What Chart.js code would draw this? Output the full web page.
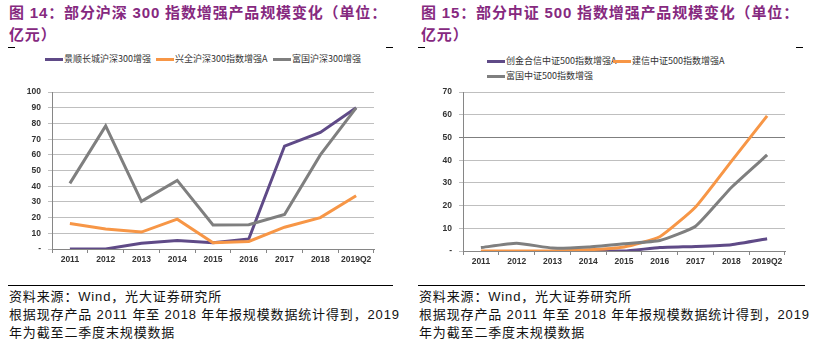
<!DOCTYPE html>
<html><head><meta charset="utf-8">
<script src="https://cdn.jsdelivr.net/npm/chart.js@4"></script>
<style>
html,body{margin:0;padding:0;background:#fff;width:813px;height:352px;overflow:hidden;}
body{position:relative;font-family:"Liberation Sans","Noto Sans CJK SC",sans-serif;}
.title{position:absolute;top:2px;font-weight:bold;font-size:15px;line-height:22px;color:#86297f;font-family:"Liberation Sans","Noto Sans CJK SC",sans-serif;letter-spacing:0.85px;white-space:nowrap;}
.mark{position:absolute;top:47px;height:1px;width:7px;background:#000;}
.legend{position:absolute;font-size:9px;color:#333;font-family:"Noto Sans CJK SC",sans-serif;line-height:14px;}
.legend .item{position:absolute;white-space:nowrap;display:flex;align-items:center;}
.legend .sw{display:inline-block;width:18px;height:3px;margin-right:1px;}
.cv{position:absolute;top:80px;}
.rule{position:absolute;top:285px;height:1px;background:#000;}
.note{position:absolute;top:288px;font-size:13px;line-height:18px;color:#111;white-space:nowrap;letter-spacing:0.85px;font-family:"Liberation Sans","Noto Sans CJK SC",sans-serif;}
</style></head>
<body>
<div class="title" style="left:9px">图 14：部分沪深 300 指数增强产品规模变化（单位：<br>亿元）</div>
<div class="title" style="left:421px">图 15：部分中证 500 指数增强产品规模变化（单位：<br>亿元）</div>
<div class="mark" style="left:8px"></div><div class="mark" style="left:386px"></div>
<div class="mark" style="left:418px"></div><div class="mark" style="left:796px"></div>
<div class="legend" id="lg1"></div>
<div class="legend" id="lg2"></div>
<canvas id="c1" class="cv" style="left:0px" width="405" height="195"></canvas>
<canvas id="c2" class="cv" style="left:410px" width="403" height="195"></canvas>
<div class="rule" style="left:8px;width:385px"></div>
<div class="rule" style="left:418px;width:387px"></div>
<div class="note" style="left:9px">资料来源：Wind，光大证券研究所<br>根据现存产品 2011 年至 2018 年年报规模数据统计得到，2019<br>年为截至二季度末规模数据</div>
<div class="note" style="left:419px">资料来源：Wind，光大证券研究所<br>根据现存产品 2011 年至 2018 年年报规模数据统计得到，2019<br>年为截至二季度末规模数据</div>
<script>
const categories = ['2011','2012','2013','2014','2015','2016','2017','2018','2019Q2'];
// Chart 14 (沪深300)
const hs300Names = ['景顺长城沪深300增强','兴全沪深300指数增强A','富国沪深300增强'];
const hs300Jingshun = [0, 0, 3.7, 5.4, 4, 6.4, 65.6, 74.3, 90];
const hs300Xingquan = [16.3, 12.8, 10.8, 19, 4, 4.8, 13.9, 20, 34];
const hs300Fuguo = [41.8, 78.5, 30.4, 43.7, 15.3, 15.5, 22, 60, 90];
// Chart 15 (中证500)
const zz500Names = ['创金合信中证500指数增强A','建信中证500指数增强A','富国中证500指数增强'];
const zz500Chuangjin = [null, null, null, 0, 0, 1.5, 2, 2.8, 5.4];
const zz500Jianxin = [0, 0, 0, 0.5, 1.8, 6.3, 19.4, 39.5, 59.5];
const zz500Fuguo = [1.5, 3.4, 1.3, 1.8, 3.2, 4.6, 10.9, 28, 42.3];

const colors = ['#5f4a87','#f79646','#7f7f7f'];
const tickFont = {family:'"Liberation Sans", sans-serif', size:8.5, weight:'bold'};

function makeChart(id, names, series, yMax, pad, tension, darkLine){
  const datasets = series.map((d,i)=>({
    label:names[i], data:d, borderColor:colors[i], backgroundColor:colors[i],
    borderWidth:3, pointRadius:0, tension:tension, order:3-i, spanGaps:false,
    borderCapStyle:'butt', borderJoinStyle:'miter'
  }));
  return new Chart(document.getElementById(id), {
    type:'line',
    data:{labels:categories, datasets},
    options:{
      responsive:false, animation:false, devicePixelRatio:1,
      layout:{padding:pad},
      plugins:{legend:{display:false}, tooltip:{enabled:false}},
      scales:{
        x:{offset:true,
           grid:{offset:true, drawOnChartArea:false, drawTicks:true, tickLength:4, color:'#868686'},
           border:{display:true, color:'#868686'},
           ticks:{font:tickFont, color:'#333', padding:2, maxRotation:0, autoSkip:false},
           afterFit:(s)=>{s.height=pad.xh;}},
        y:{min:0, max:yMax,
           ticks:{stepSize:10, font:tickFont, color:'#333', padding:7,
                  callback:(v)=> v===0 ? '-' : v},
           grid:{color:(c)=> (darkLine!==null && c.tick && c.tick.value===darkLine) ? '#7f7f7f' : '#bfbfbf',
                 tickLength:4, drawTicks:true},
           border:{display:true, color:'#868686'},
           afterFit:(s)=>{s.width=30;}}
      }
    }
  });
}

function makeLegend(id, names, positions){
  const el = document.getElementById(id);
  names.forEach((n,i)=>{
    const it = document.createElement('div');
    it.className='item';
    it.style.left = positions[i][0]+'px';
    it.style.top = positions[i][1]+'px';
    it.innerHTML = '<span class="sw" style="background:'+colors[i]+'"></span><span>'+n+'</span>';
    el.appendChild(it);
  });
}

makeChart('c1', hs300Names, [hs300Jingshun, hs300Xingquan, hs300Fuguo], 100,
  {left:22, right:31, top:8, bottom:6, xh:20}, 0, null);
makeChart('c2', zz500Names, [zz500Chuangjin, zz500Jianxin, zz500Fuguo], 70,
  {left:23, right:28, top:8, bottom:6, xh:18}, 0.15, 50);

makeLegend('lg1', hs300Names, [[45,52],[156,52],[273,52]]);
makeLegend('lg2', zz500Names, [[487,54],[613,54],[487,69]]);
</script>
</body></html>
